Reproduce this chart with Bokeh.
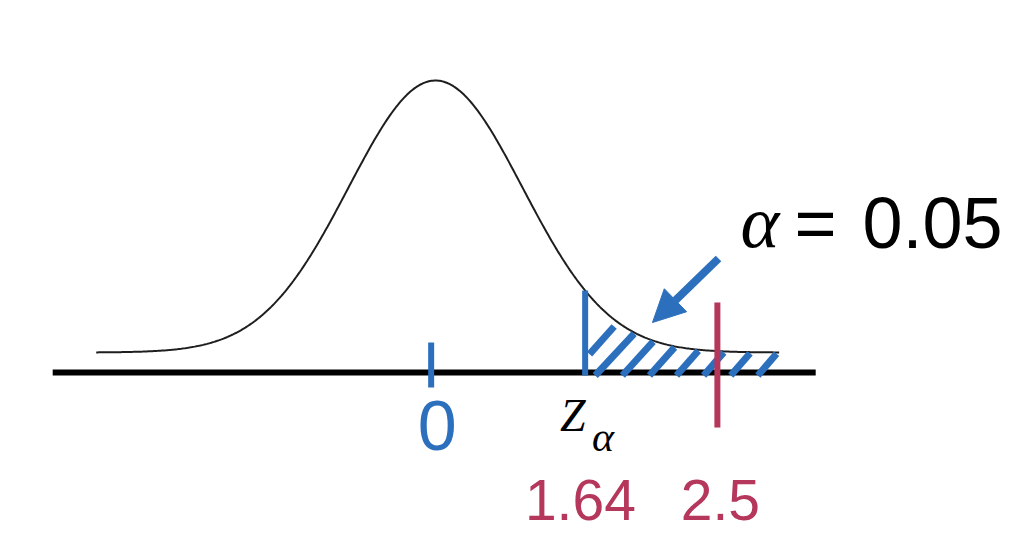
import numpy as np
from bokeh.plotting import figure
from bokeh.models import Range1d, Label, Arrow, NormalHead
from bokeh.embed import file_html
from bokeh.resources import INLINE

# ---- data ----
mean = 0.0
sd = 1.0
z_alpha = 1.64          # critical value
z_obs = 2.5             # observed statistic
alpha_level = 0.05
tick_labels = ["0", "1.64", "2.5"]

# ---- schematic layout (drawing is not to scale) ----
pos_zero = -0.05
pos_alpha = 1.72
pos_obs = 3.24
curve_lo, curve_hi = -3.9, 3.95
axis_lo, axis_hi = -4.40, 4.37
lift = 0.0293                      # curve drawn slightly above the axis line
PX_X, PX_Y = 87.0, 681.8           # pixels per data unit

BLUE = "#2c6fbd"
RED = "#b5375c"

p = figure(width=1024, height=555, output_backend="svg", toolbar_location=None,
           x_range=Range1d(-5.0, 6.770), y_range=Range1d(-0.2684, 0.5456),
           x_axis_location=None, y_axis_location=None, min_border=0)
p.grid.visible = False
p.outline_line_color = None
p.background_fill_color = "white"
p.border_fill_color = "white"

def curve(z):
    return lift + np.exp(-0.5 * ((z - mean) / sd) ** 2) / (sd * np.sqrt(2 * np.pi))

# axis line
p.line([axis_lo, axis_hi], [0, 0], line_color="black", line_width=6)

# normal curve
zz = np.linspace(curve_lo, curve_hi, 500)
p.line(zz, curve(zz), line_color="#1e1e1e", line_width=2)

# hatch lines in the rejection region (45 deg in screen space)
x0s, y0s, x1s, y1s = [], [], [], []
start_px = (pos_alpha * PX_X) - 17.0
for k in range(8):
    xb = start_px + 27.1 * k
    ts = np.linspace(0, 70, 701)
    xs = (xb + ts) / PX_X
    ys = ts / PX_Y
    ok = (xs >= pos_alpha + 0.05) & (ys <= curve(xs) - 1 / PX_Y) & (ts <= 46) & (xs <= curve_hi - 0.03)
    if not ok.any():
        continue
    idx = np.where(ok)[0]
    run_end = idx[0]
    for j in idx[1:]:
        if j == run_end + 1:
            run_end = j
        else:
            break
    x0s.append(xs[idx[0]]); y0s.append(ys[idx[0]] - 3 / PX_Y)
    x1s.append(xs[run_end]); y1s.append(ys[run_end])
p.segment(x0s, y0s, x1s, y1s, line_color=BLUE, line_width=7, line_cap="butt")

# tick at 0
p.segment([pos_zero], [-0.022], [pos_zero], [0.044], line_color=BLUE, line_width=6)
# critical value line
p.segment([pos_alpha], [-0.0044], [pos_alpha], [curve(pos_alpha)], line_color=BLUE, line_width=6)
# observed statistic line
p.segment([pos_obs], [-0.0807], [pos_obs], [0.1027], line_color=RED, line_width=6)

# arrow pointing to rejection region
p.add_layout(Arrow(end=NormalHead(size=32, fill_color=BLUE, line_color=BLUE, line_width=1),
                   x_start=3.253, y_start=0.1672, x_end=2.494, y_end=0.0733,
                   line_color=BLUE, line_width=8))

def label(x, y, text, font, size, color, align="left", style="normal"):
    # y is the desired baseline; shift for the renderer's baseline handling
    p.add_layout(Label(x=x, y=y + 0.36 * size / PX_Y, text=text, text_font=font,
                       text_font_style=style, text_font_size=f"{size}px",
                       text_color=color, text_align=align, text_baseline="alphabetic"))

label(pos_zero + 0.07, -0.1144, tick_labels[0], "Liberation Sans", 70, BLUE, "center")
label(pos_alpha - 0.055, -0.2171, tick_labels[1], "Liberation Sans", 57, RED, "center")
label(pos_obs + 0.035, -0.2171, tick_labels[2], "Liberation Sans", 57, RED, "center")
label(1.43, -0.088, "Z", "Liberation Serif", 46, "black", "left", "italic")
label(1.80, -0.1173, "α", "Liberation Serif", 42, "black", "left", "italic")
label(3.506, 0.1819, "α", "Liberation Serif", 74, "black", "left", "italic")
label(4.126, 0.1819, "=", "Liberation Sans", 72, "black", "left")
label(4.908, 0.1819, f"{alpha_level:.2f}", "Liberation Sans", 72, "black", "left")

open("out.html", "w").write(file_html(p, INLINE))
